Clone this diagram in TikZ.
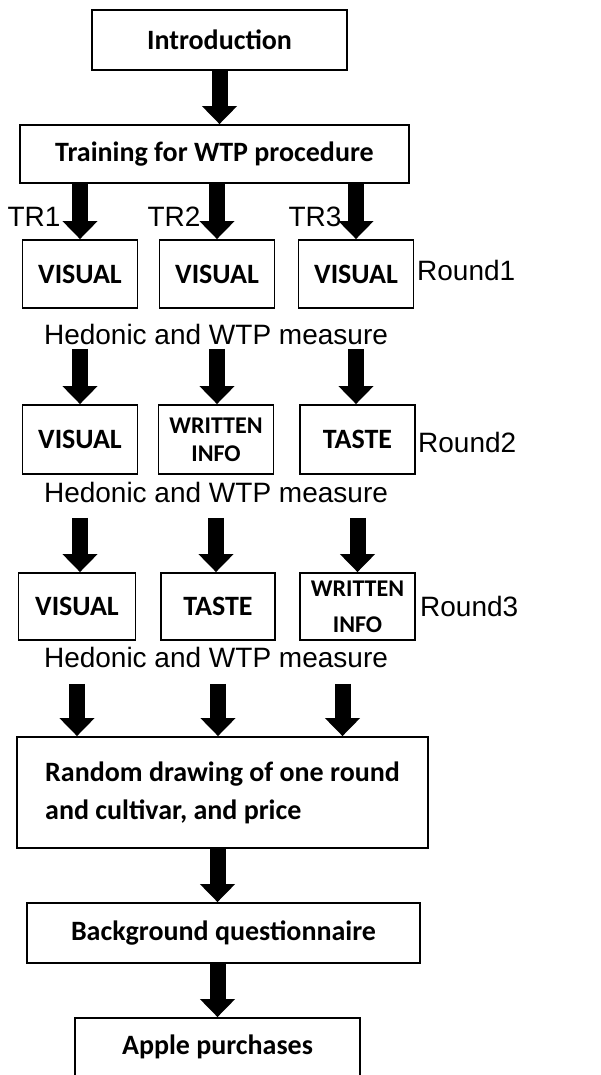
\documentclass[tikz,border=0pt]{standalone}
\usepackage{fontspec}
\setmainfont{Carlito}
\newfontfamily\arialf{Liberation Sans}
\usetikzlibrary{arrows.meta}
\begin{document}
\begin{tikzpicture}[x=1pt,y=-1pt,
  box/.style={draw, line width=1.8pt, inner sep=0pt, align=center,
    font=\fontsize{28}{38}\selectfont\bfseries},
  rbox/.style={box, minimum width=115pt, minimum height=68pt},
  small/.style={font=\fontsize{24}{28}\selectfont\bfseries},
  lbl/.style={inner sep=0pt, font=\arialf\fontsize{28}{32}\selectfont},
  fat/.style={line width=16pt, -{Triangle[width=34pt,length=18pt]}}]
\useasboundingbox (0,0) rectangle (600,1075);

% top boxes
\node[box, minimum width=255pt, minimum height=60pt] (intro) at (219.5,40) {Introduction};
\node[box, minimum width=389pt, minimum height=58pt] (train) at (214.5,154) {Training for WTP procedure};

% round 1
\node[rbox] (v11) at (80,274) {VISUAL};
\node[rbox] (v12) at (217,274) {VISUAL};
\node[rbox] (v13) at (356,274) {VISUAL};
% round 2
\node[rbox, minimum height=69pt] (v21) at (80,439.5) {VISUAL};
\node[rbox, minimum height=69pt, small] (v22) at (216,439.5) {WRITTEN\\INFO};
\node[rbox, minimum height=69pt] (v23) at (357.5,439.5) {TASTE};
% round 3
\node[rbox, minimum width=117pt, minimum height=67pt] (v31) at (77,606.5) {VISUAL};
\node[rbox, minimum width=114pt, minimum height=67pt] (v32) at (218,606.5) {TASTE};
\node[rbox, minimum height=67pt, small, font=\fontsize{24}{36}\selectfont\bfseries] (v33) at (357.5,606.5) {WRITTEN\\INFO};

% bottom boxes
\node[box, minimum width=411pt, minimum height=111pt, align=left] (rnd) at (222.5,792.5)
  {Random drawing of one round\\and cultivar, and price};
\node[box, minimum width=393pt, minimum height=60pt] (bg) at (223.5,933) {Background questionnaire};
\node[box, minimum width=285pt, minimum height=58pt] (apple) at (217.5,1047) {Apple purchases};

% labels
\node[lbl] (tr1) at (34,217) {TR1};
\node[lbl] (tr2) at (174,217) {TR2};
\node[lbl] (tr3) at (315,217) {TR3};
\node[lbl, anchor=west] (r1) at (417,270) {Round1};
\node[lbl, anchor=west] (r2) at (418,442) {Round2};
\node[lbl, anchor=west] (r3) at (420,606) {Round3};
\node[lbl] (h1) at (216,334) {Hedonic and WTP measure};
\node[lbl] (h2) at (216,492) {Hedonic and WTP measure};
\node[lbl] (h3) at (216,657) {Hedonic and WTP measure};

% arrows
\draw[fat] (intro.south) -- (intro.south |- train.north);
\draw[fat] (train.south -| v11.north) -- (v11.north);
\draw[fat] (train.south -| v12.north) -- (v12.north);
\draw[fat] (train.south -| v13.north) -- (v13.north);

\draw[fat, shorten <=40pt] (v11.south) -- (v11.south |- v21.north);
\draw[fat, shorten <=40pt] (v12.south) -- (v12.south |- v22.north);
\draw[fat, shorten <=40pt] (v13.south) -- (v13.south |- v23.north);

\draw[fat, shorten <=43pt] (v21.south) -- (v21.south |- v31.north);
\draw[fat, shorten <=43pt] (v22.south) -- (v22.south |- v32.north);
\draw[fat, shorten <=43pt] (v23.south) -- (v23.south |- v33.north);

\draw[fat, shorten <=43pt] (v31.south) -- (v31.south |- rnd.north);
\draw[fat, shorten <=43pt] (v32.south) -- (v32.south |- rnd.north);
\draw[fat, shorten <=43pt] ([xshift=-15pt]v33.south) -- ([xshift=-15pt]v33.south |- rnd.north);

\draw[fat] ([xshift=-5pt]rnd.south) -- ([xshift=-5pt]rnd.south |- bg.north);
\draw[fat] ([xshift=-6pt]bg.south) -- ([xshift=-6pt]bg.south |- apple.north);
\end{tikzpicture}
\end{document}
